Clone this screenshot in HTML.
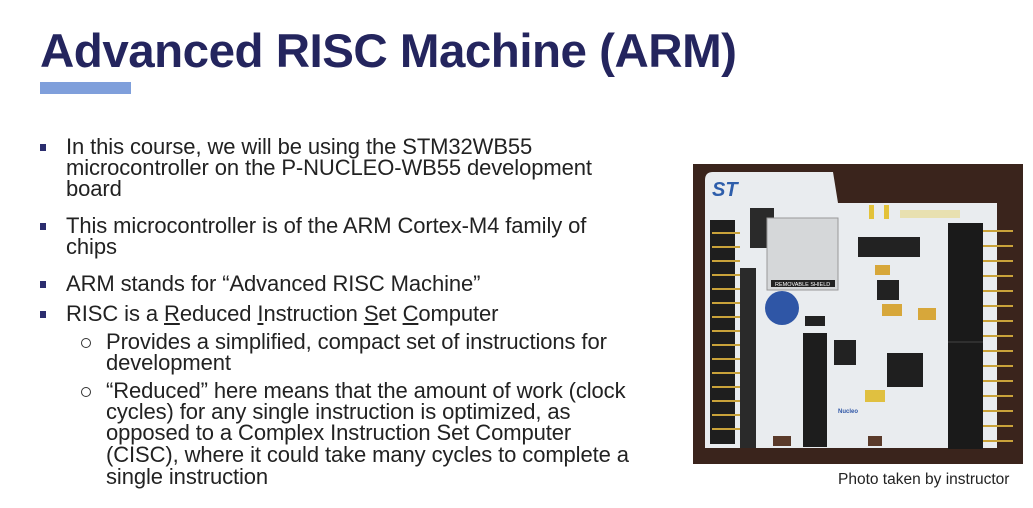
<!DOCTYPE html>
<html><head><meta charset="utf-8"><style>
body{margin:0;width:1033px;height:508px;background:#fff;position:relative;overflow:hidden;font-family:"Liberation Sans",sans-serif;}
.t{position:absolute;left:40px;top:24px;font-size:47.5px;font-weight:bold;color:#24255e;white-space:nowrap;letter-spacing:-0.5px}
.bar{position:absolute;left:40px;top:82px;width:91px;height:12px;background:#7f9fdb}
.l{position:absolute;font-size:22px;color:#222;white-space:nowrap;line-height:22px;letter-spacing:-0.1px}
.sq{position:absolute;left:40px;width:6px;height:7px;background:#2b2d6e}
.c{position:absolute;left:81px;width:8px;height:8px;border:1px solid #333;border-radius:50%}
.cap{position:absolute;left:838px;top:471px;font-size:15.5px;color:#222;white-space:nowrap}
</style></head><body>
<div class="t">Advanced RISC Machine (ARM)</div>
<div class="bar"></div>
<div class="sq" style="top:144px"></div>
<div class="l" style="left:66px;top:136px">In this course, we will be using the STM32WB55</div>
<div class="l" style="left:66px;top:157px">microcontroller on the P-NUCLEO-WB55 development</div>
<div class="l" style="left:66px;top:178px">board</div>
<div class="sq" style="top:223px"></div>
<div class="l" style="left:66px;top:215px">This microcontroller is of the ARM Cortex-M4 family of</div>
<div class="l" style="left:66px;top:236px">chips</div>
<div class="sq" style="top:281px"></div>
<div class="l" style="left:66px;top:273px">ARM stands for “Advanced RISC Machine”</div>
<div class="sq" style="top:311px"></div>
<div class="l" style="left:66px;top:303px">RISC is a <u>R</u>educed <u>I</u>nstruction <u>S</u>et <u>C</u>omputer</div>
<div class="c" style="top:338px"></div>
<div class="l" style="left:106px;top:331px">Provides a simplified, compact set of instructions for</div>
<div class="l" style="left:106px;top:352px">development</div>
<div class="c" style="top:387px"></div>
<div class="l" style="left:106px;top:380px">“Reduced” here means that the amount of work (clock</div>
<div class="l" style="left:106px;top:401px">cycles) for any single instruction is optimized, as</div>
<div class="l" style="left:106px;top:422px">opposed to a Complex Instruction Set Computer</div>
<div class="l" style="left:106px;top:444px">(CISC), where it could take many cycles to complete a</div>
<div class="l" style="left:106px;top:466px">single instruction</div>
<svg style="position:absolute;left:693px;top:164px" width="330" height="300" viewBox="693 164 330 300">
<rect x="693" y="164" width="330" height="300" fill="#3a241c"/>
<path d="M705 180 Q705 172 713 172 L833 172 L838 203 L997 203 L997 448 L705 448 Z" fill="#e9ecef"/>
<text x="712" y="196" font-size="20" font-weight="bold" font-style="italic" fill="#2e5eab" font-family="Liberation Sans">ST</text>
<rect x="710" y="220" width="25" height="224" fill="#1e1e1e"/>
<g fill="#c9a23a"><rect x="712" y="232" width="28" height="2"/><rect x="712" y="246" width="28" height="2"/><rect x="712" y="260" width="28" height="2"/><rect x="712" y="274" width="28" height="2"/><rect x="712" y="288" width="28" height="2"/><rect x="712" y="302" width="28" height="2"/><rect x="712" y="316" width="28" height="2"/><rect x="712" y="330" width="28" height="2"/><rect x="712" y="344" width="28" height="2"/><rect x="712" y="358" width="28" height="2"/><rect x="712" y="372" width="28" height="2"/><rect x="712" y="386" width="28" height="2"/><rect x="712" y="400" width="28" height="2"/><rect x="712" y="414" width="28" height="2"/><rect x="712" y="428" width="28" height="2"/></g>
<rect x="740" y="268" width="16" height="180" fill="#2a2a2a"/>
<rect x="750" y="208" width="24" height="40" fill="#2a2a2a"/>
<rect x="767" y="218" width="71" height="72" fill="#d5d7d9" stroke="#999"/>
<rect x="771" y="280" width="64" height="7" fill="#222"/>
<text x="775" y="286" font-size="5.5" fill="#fff" font-family="Liberation Sans">REMOVABLE SHIELD</text>
<circle cx="782" cy="308" r="17" fill="#2f56a6"/>
<rect x="803" y="333" width="24" height="114" fill="#1d1d1d"/>
<rect x="805" y="316" width="20" height="10" fill="#222"/>
<rect x="858" y="237" width="62" height="20" fill="#222"/>
<rect x="869" y="205" width="5" height="14" fill="#e3c23a"/><rect x="884" y="205" width="5" height="14" fill="#e3c23a"/>
<rect x="900" y="210" width="60" height="8" fill="#e8e0b0"/>
<rect x="875" y="265" width="15" height="10" fill="#d7a73a"/>
<rect x="877" y="280" width="22" height="20" fill="#222"/>
<rect x="882" y="304" width="20" height="12" fill="#d7a73a"/>
<rect x="918" y="308" width="18" height="12" fill="#d7a73a"/>
<rect x="834" y="340" width="22" height="25" fill="#222"/>
<rect x="887" y="353" width="36" height="34" fill="#1f1f1f"/>
<rect x="948" y="223" width="35" height="226" fill="#1a1a1a"/>
<line x1="948" y1="342" x2="983" y2="342" stroke="#444"/>
<g fill="#c9a23a"><rect x="983" y="230" width="30" height="2"/><rect x="983" y="245" width="30" height="2"/><rect x="983" y="260" width="30" height="2"/><rect x="983" y="275" width="30" height="2"/><rect x="983" y="290" width="30" height="2"/><rect x="983" y="305" width="30" height="2"/><rect x="983" y="320" width="30" height="2"/><rect x="983" y="335" width="30" height="2"/><rect x="983" y="350" width="30" height="2"/><rect x="983" y="365" width="30" height="2"/><rect x="983" y="380" width="30" height="2"/><rect x="983" y="395" width="30" height="2"/><rect x="983" y="410" width="30" height="2"/><rect x="983" y="425" width="30" height="2"/><rect x="983" y="440" width="30" height="2"/></g>
<rect x="865" y="390" width="20" height="12" fill="#e0c040"/>
<rect x="773" y="436" width="18" height="10" fill="#5a3a2a"/><rect x="868" y="436" width="14" height="10" fill="#5a3a2a"/>
<text x="838" y="413" font-size="6" fill="#2f56a6" font-weight="bold" font-family="Liberation Sans">Nucleo</text>
</svg>
<div class="cap">Photo taken by instructor</div>
</body></html>
